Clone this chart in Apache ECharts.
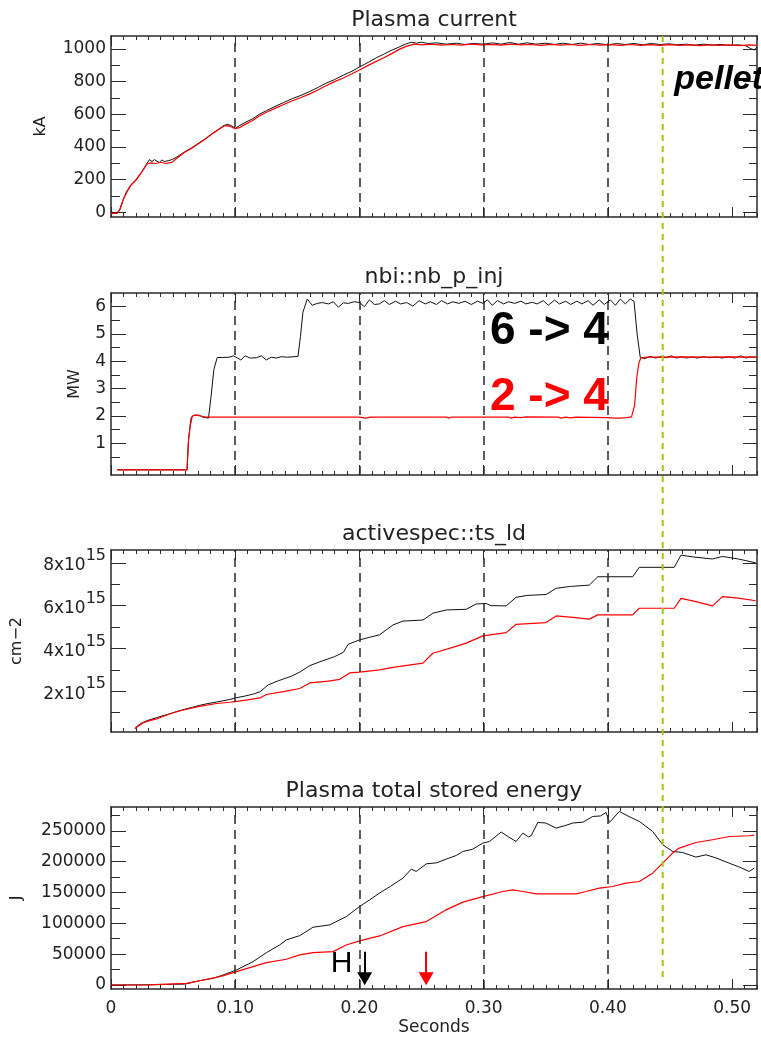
<!DOCTYPE html>
<html>
<head>
<meta charset="utf-8">
<title>Discharge comparison</title>
<script src="https://cdn.jsdelivr.net/npm/echarts@6/dist/echarts.min.js"></script>
<style>
  html, body { margin: 0; padding: 0; background: #fff; }
  #chart { width: 761px; height: 1037px; }
</style>
</head>
<body>
<div id="chart"></div>
<script>
// ---- time axis (seconds) ----
const timeMajor = [0, 0.1, 0.2, 0.3, 0.4, 0.5];
const timeLabels = ['0', '0.10', '0.20', '0.30', '0.40', '0.50'];
const guideTimes = [0.1, 0.2, 0.3, 0.4];
const pelletTime = 0.4441;

// ---- Plasma current (kA) ----
const ipTicks = [0, 200, 400, 600, 800, 1000];
const ipTickLabels = ['0', '200', '400', '600', '800', '1000'];
const ipMinor = [100, 300, 500, 700, 900];
const ipBlack = [
  [0,0],[0.004,-5],[0.0065,5],[0.009,60],[0.012,118],[0.016,168],[0.02,198],[0.025,250],[0.029,300],
  [0.031,322],[0.033,310],[0.035,322],[0.037,312],[0.039,305],[0.041,320],[0.043,310],[0.046,315],
  [0.049,322],[0.053,338],[0.059,368],[0.065,395],[0.07,420],[0.076,450],[0.081,480],[0.087,510],
  [0.091,532],[0.094,538],[0.097,530],[0.1,515],[0.103,528],[0.108,550],[0.114,572],[0.119,598],
  [0.125,622],[0.132,648],[0.139,672],[0.146,696],[0.153,716],[0.16,740],[0.167,766],[0.173,790],
  [0.18,813],[0.187,840],[0.194,864],[0.2,890],[0.207,918],[0.214,948],[0.22,970],[0.226,993],
  [0.232,1013],[0.237,1030],[0.2417,1042],[0.246,1036],[0.25,1042],[0.255,1034],[0.262,1038],
  [0.27,1030],[0.278,1036],[0.285,1028],[0.292,1034],[0.3,1030],[0.307,1038],[0.314,1030],
  [0.321,1040],[0.328,1030],[0.335,1038],[0.342,1030],[0.35,1036],[0.357,1028],[0.364,1036],
  [0.371,1028],[0.378,1036],[0.385,1028],[0.392,1034],[0.4,1026],[0.407,1034],[0.414,1028],
  [0.421,1034],[0.428,1026],[0.435,1034],[0.442,1028],[0.449,1032],[0.456,1026],[0.463,1030],
  [0.47,1024],[0.477,1030],[0.484,1024],[0.491,1028],[0.498,1022],[0.505,1026],[0.511,1020],
  [0.515,1002],[0.518,994],[0.52,1012]
];
const ipRed = [
  [0,-8],[0.005,-8],[0.0075,20],[0.01,80],[0.013,125],[0.016,165],[0.02,195],[0.025,248],
  [0.029,295],[0.032,302],[0.036,298],[0.04,306],[0.044,298],[0.049,305],[0.053,330],[0.059,365],
  [0.065,392],[0.07,418],[0.076,448],[0.081,478],[0.087,508],[0.091,528],[0.094,530],[0.097,522],
  [0.1,512],[0.104,520],[0.108,538],[0.114,562],[0.119,588],[0.125,612],[0.132,636],[0.139,660],
  [0.146,683],[0.153,703],[0.16,725],[0.167,750],[0.173,775],[0.18,800],[0.187,822],[0.194,848],
  [0.2,872],[0.207,900],[0.214,926],[0.22,948],[0.226,972],[0.232,998],[0.238,1018],[0.244,1030],
  [0.25,1026],[0.258,1030],[0.266,1024],[0.274,1028],[0.282,1024],[0.29,1030],[0.298,1025],
  [0.306,1029],[0.314,1024],[0.322,1030],[0.33,1025],[0.338,1028],[0.346,1023],[0.354,1029],
  [0.362,1024],[0.37,1028],[0.378,1023],[0.386,1028],[0.394,1024],[0.402,1027],[0.41,1022],
  [0.418,1028],[0.426,1023],[0.434,1027],[0.442,1022],[0.45,1027],[0.458,1022],[0.466,1026],
  [0.474,1021],[0.482,1026],[0.49,1022],[0.498,1026],[0.506,1021],[0.514,1025],[0.52,1022]
];

// ---- Neutral beam power (MW) ----
const nbiTicks = [1, 2, 3, 4, 5, 6];
const nbiTickLabels = ['1', '2', '3', '4', '5', '6'];
const nbiMinor = [0.5, 1.5, 2.5, 3.5, 4.5, 5.5];
const nbiBlack = [
  [0.005,0.03],[0.0612,0.03],[0.0625,1.2],[0.0645,1.95],[0.067,2.03],[0.071,2.03],[0.074,1.96],
  [0.0785,1.92],[0.0805,2.7],[0.0828,3.7],[0.0855,4.14],[0.09,4.14],[0.095,4.15],[0.0985,4.2],
  [0.102,4.12],[0.1045,4.05],[0.108,4.2],[0.112,4.12],[0.117,4.13],[0.121,4.2],[0.125,4.05],
  [0.129,4.15],[0.133,4.12],[0.137,4.17],[0.142,4.15],[0.1505,4.18],[0.1525,4.9],[0.1545,5.8],
  [0.158,6.28],[0.162,6.05],[0.166,6.12],[0.17,6.15],[0.175,6.1],[0.179,6.18],[0.183,5.98],
  [0.187,6.14],[0.191,6.12],[0.196,6.18],[0.2,6.15],[0.204,6.0],[0.208,6.25],[0.212,6.08],
  [0.216,6.1],[0.22,6.22],[0.224,6.08],[0.229,6.2],[0.233,6.1],[0.238,6.15],[0.243,6.02],
  [0.248,6.22],[0.253,6.1],[0.257,6.18],[0.262,6.08],[0.266,6.22],[0.271,6.1],[0.275,6.18],
  [0.28,6.12],[0.285,6.2],[0.29,6.08],[0.295,6.2],[0.2995,6.12],[0.303,6.25],[0.307,6.05],
  [0.311,6.22],[0.316,6.1],[0.32,6.18],[0.325,6.12],[0.33,6.2],[0.334,6.1],[0.339,6.16],
  [0.343,6.1],[0.348,6.22],[0.352,6.05],[0.357,6.24],[0.361,6.1],[0.366,6.2],[0.37,6.08],
  [0.375,6.2],[0.379,6.1],[0.384,6.22],[0.388,6.05],[0.393,6.25],[0.397,6.08],[0.402,6.25],
  [0.406,6.05],[0.41,6.28],[0.414,6.1],[0.418,6.28],[0.421,6.2],[0.4235,5.0],[0.426,4.15],
  [0.43,4.1],[0.434,4.18],[0.438,4.12],[0.443,4.17],[0.447,4.13],[0.451,4.2],[0.455,4.12],
  [0.459,4.17],[0.463,4.12],[0.468,4.16],[0.472,4.12],[0.477,4.17],[0.482,4.13],[0.487,4.16],
  [0.492,4.12],[0.497,4.17],[0.502,4.12],[0.507,4.2],[0.511,4.12],[0.515,4.17],[0.52,4.14]
];
const nbiRed = [
  [0.005,0.03],[0.0612,0.03],[0.0622,1.0],[0.0638,1.65],[0.0655,2.0],[0.068,2.03],[0.072,2.0],
  [0.076,1.96],[0.1,1.96],[0.15,1.96],[0.2,1.96],[0.205,1.92],[0.209,1.96],[0.27,1.96],
  [0.272,1.92],[0.274,1.96],[0.32,1.96],[0.322,1.92],[0.325,1.96],[0.33,1.94],[0.334,1.97],
  [0.36,1.96],[0.362,1.92],[0.366,1.96],[0.37,1.93],[0.374,1.96],[0.4,1.94],[0.405,1.92],
  [0.41,1.92],[0.415,1.94],[0.419,1.97],[0.4215,2.4],[0.4232,3.4],[0.425,3.95],[0.4265,4.12],
  [0.43,4.15],[0.44,4.15],[0.46,4.16],[0.48,4.15],[0.5,4.16],[0.52,4.15]
];

// ---- Line-integrated density (units of 10^15 cm-2) ----
const neTicks = [2, 4, 6, 8];
const neTickLabels = ['2x10', '4x10', '6x10', '8x10'];
const neExponent = '15';
const neMinor = [1, 3, 5, 7];
const neBlack = [
  [0.0193,0.27],[0.022,0.42],[0.026,0.56],[0.031,0.67],[0.0367,0.77],[0.043,0.88],[0.05,1.0],
  [0.055,1.09],[0.0603,1.18],[0.066,1.26],[0.071,1.34],[0.078,1.43],[0.085,1.5],[0.0957,1.62],
  [0.1,1.69],[0.108,1.78],[0.115,1.88],[0.12,1.98],[0.1265,2.3],[0.135,2.5],[0.145,2.7],
  [0.152,2.9],[0.16,3.2],[0.17,3.42],[0.18,3.62],[0.187,3.82],[0.191,4.2],[0.2,4.4],[0.208,4.52],
  [0.2162,4.64],[0.227,5.1],[0.235,5.28],[0.2511,5.33],[0.2591,5.65],[0.27,5.8],[0.2859,5.83],
  [0.294,6.08],[0.302,6.1],[0.306,6.0],[0.3181,5.99],[0.3261,6.39],[0.335,6.48],[0.3502,6.52],
  [0.3583,6.81],[0.37,6.9],[0.385,6.96],[0.3918,7.35],[0.4199,7.35],[0.4252,7.79],[0.4534,7.79],
  [0.4588,8.36],[0.468,8.28],[0.4842,8.18],[0.4922,8.3],[0.505,8.18],[0.519,8.0]
];
const neRed = [
  [0.0193,0.25],[0.022,0.38],[0.026,0.53],[0.031,0.63],[0.0367,0.71],[0.043,0.85],[0.05,1.0],
  [0.06,1.15],[0.071,1.3],[0.085,1.43],[0.0957,1.49],[0.1,1.52],[0.11,1.6],[0.1198,1.69],
  [0.1251,1.85],[0.14,2.0],[0.1519,2.13],[0.16,2.39],[0.175,2.48],[0.1841,2.56],[0.1921,2.86],
  [0.2,2.9],[0.2163,3.0],[0.227,3.12],[0.2511,3.32],[0.2591,3.78],[0.275,4.05],[0.2859,4.25],
  [0.2993,4.59],[0.3181,4.74],[0.3261,5.13],[0.3502,5.21],[0.3583,5.52],[0.3717,5.45],[0.385,5.37],
  [0.3918,5.57],[0.4199,5.57],[0.4252,5.88],[0.4534,5.88],[0.4588,6.34],[0.47,6.2],[0.4842,5.99],
  [0.4922,6.42],[0.505,6.35],[0.519,6.23]
];

// ---- Plasma total stored energy (J) ----
const wTicks = [0, 50000, 100000, 150000, 200000, 250000];
const wTickLabels = ['0', '50000', '100000', '150000', '200000', '250000'];
const wMinor = [25000, 75000, 125000, 175000, 225000, 275000];
const wBlack = [
  [0,0],[0.03,300],[0.06,1500],[0.0715,7000],[0.0822,10800],[0.09,16000],[0.101,24400],
  [0.1144,37900],[0.1251,52400],[0.1358,64900],[0.1412,73100],[0.1519,80000],[0.1626,93600],
  [0.176,97400],[0.1894,110900],[0.2001,127100],[0.2082,138000],[0.2162,149000],[0.225,160000],
  [0.235,173200],[0.2417,187800],[0.2457,184000],[0.2538,196400],[0.262,198000],[0.2698,204000],
  [0.278,210000],[0.2832,216400],[0.291,220000],[0.2993,230000],[0.3047,232600],[0.3141,247900],
  [0.32,240000],[0.3261,232600],[0.3315,246200],[0.336,240000],[0.3382,241900],[0.3436,263500],
  [0.35,262500],[0.3583,254300],[0.365,258000],[0.3717,262500],[0.38,264000],[0.3878,273200],
  [0.394,274000],[0.3985,279700],[0.4012,263500],[0.4092,281300],[0.417,273000],[0.4253,265100],
  [0.43,258000],[0.436,248900],[0.4441,227300],[0.4521,216400],[0.4601,214800],[0.4708,207300],
  [0.4789,211000],[0.487,206000],[0.4976,197500],[0.506,191000],[0.5137,184000],[0.5177,189400]
];
const wRed = [
  [0,0],[0.03,300],[0.0608,2700],[0.0742,8100],[0.0876,13500],[0.101,21600],[0.1144,29700],
  [0.1251,36200],[0.1412,41700],[0.1519,48700],[0.1626,52400],[0.1787,54100],[0.1894,64900],
  [0.2001,71400],[0.2162,79500],[0.235,94600],[0.2538,102800],[0.2698,121800],[0.2832,134300],
  [0.2993,143300],[0.3155,151500],[0.3235,154200],[0.3315,151500],[0.3422,147700],[0.3744,147700],
  [0.3824,151500],[0.3931,157000],[0.4038,159600],[0.4145,165100],[0.4253,167700],[0.436,181300],
  [0.4441,197500],[0.4521,213800],[0.4574,221900],[0.4708,231000],[0.4842,235400],[0.4976,240700],
  [0.5137,241900],[0.5177,243000]
];

// ---- annotation anchors (time, value) ----
const hModeMarks = [
  { time: 0.2042, from: 54000, to: 10000, color: '#000000' },
  { time: 0.2537, from: 54000, to: 10000, color: '#ff0000' }
];

// ---- styling ----
const AXIS = '#2a2a2a';
const TXT = '#222222';
const FONT = '"DejaVu Sans", sans-serif';
const BOLD = '"Liberation Sans", Arial, sans-serif';
const BLACK_LINE = '#111111';
const RED_LINE = '#ff0000';

const timeMinor = [];
for (let i = 1; i <= 52; i++) if (i % 10 !== 0) timeMinor.push(i / 100);

function lookup(values, labels) {
  return function (v) {
    for (let i = 0; i < values.length; i++) {
      if (Math.abs(values[i] - v) < 1e-9) return labels[i];
    }
    return '';
  };
}

const panels = [
  { title: 'Plasma current', name: 'kA', nameGap: 62, top: 36, height: 181,
    yMin: -30, yMax: 1080, major: ipTicks, labels: ipTickLabels, minor: ipMinor,
    black: ipBlack, red: ipRed },
  { title: 'nbi::nb_p_inj', name: 'MW', nameGap: 28, top: 293, height: 182,
    yMin: -0.16, yMax: 6.5, major: nbiTicks, labels: nbiTickLabels, minor: nbiMinor,
    black: nbiBlack, red: nbiRed },
  { title: 'activespec::ts_ld', name: 'cm\u22122', nameGap: 86, top: 550, height: 182,
    yMin: 0.1, yMax: 8.6, major: neTicks, labels: neTickLabels, minor: neMinor,
    black: neBlack, red: neRed, rich: true },
  { title: 'Plasma total stored energy', name: 'J', nameGap: 86, top: 807, height: 182,
    yMin: -6500, yMax: 288500, major: wTicks, labels: wTickLabels, minor: wMinor,
    black: wBlack, red: wRed }
];

const GRID_LEFT = 111;
const GRID_WIDTH = 646;

const grids = [], xAxes = [], yAxes = [], series = [];

panels.forEach(function (p, gi) {
  grids.push({ left: GRID_LEFT, top: p.top, width: GRID_WIDTH, height: p.height, show: false });
  const isLast = gi === panels.length - 1;
  const frame = { show: true, onZero: false, lineStyle: { color: AXIS, width: 1.5 } };
  const hidden = { show: false, onZero: false };
  const tickStyle = { color: AXIS, width: 1 };

  const xBase = { type: 'value', gridIndex: gi, min: 0, max: 0.52, splitLine: { show: false } };
  xAxes.push(Object.assign({}, xBase, {
    position: 'bottom', axisLine: frame,
    axisTick: { show: true, inside: true, length: 10, customValues: timeMajor, lineStyle: tickStyle },
    axisLabel: isLast
      ? { show: true, customValues: timeMajor, formatter: lookup(timeMajor, timeLabels),
          margin: 11, fontFamily: FONT, fontSize: 17, color: TXT }
      : { show: false },
    name: isLast ? 'Seconds' : '', nameLocation: 'middle', nameGap: 30,
    nameTextStyle: { fontFamily: FONT, fontSize: 17, color: TXT }
  }));
  xAxes.push(Object.assign({}, xBase, {
    position: 'bottom', axisLine: hidden,
    axisTick: { show: true, inside: true, length: 4, customValues: timeMinor, lineStyle: tickStyle },
    axisLabel: { show: false }
  }));
  xAxes.push(Object.assign({}, xBase, {
    position: 'top', axisLine: frame,
    axisTick: { show: true, inside: true, length: 10, customValues: timeMajor, lineStyle: tickStyle },
    axisLabel: { show: false }
  }));
  xAxes.push(Object.assign({}, xBase, {
    position: 'top', axisLine: hidden,
    axisTick: { show: true, inside: true, length: 4, customValues: timeMinor, lineStyle: tickStyle },
    axisLabel: { show: false }
  }));

  const yBase = { type: 'value', gridIndex: gi, min: p.yMin, max: p.yMax, splitLine: { show: false } };
  const labelFor = lookup(p.major, p.labels);
  const yLabel = p.rich
    ? { show: true, customValues: p.major, margin: 5, color: TXT, fontFamily: FONT, fontSize: 17,
        formatter: function (v) { return '{m|' + labelFor(v) + '}{s|' + neExponent + '}'; },
        rich: {
          m: { fontFamily: FONT, fontSize: 17, color: TXT, padding: [6, 0, 0, 0] },
          s: { fontFamily: FONT, fontSize: 16, color: TXT, padding: [0, 0, 14, 0] }
        } }
    : { show: true, customValues: p.major, formatter: labelFor, margin: 5,
        fontFamily: FONT, fontSize: 17, color: TXT };
  yAxes.push(Object.assign({}, yBase, {
    position: 'left', axisLine: frame,
    axisTick: { show: true, inside: true, length: 15, customValues: p.major, lineStyle: tickStyle },
    axisLabel: yLabel,
    name: p.name, nameLocation: 'middle', nameGap: p.nameGap,
    nameTextStyle: { fontFamily: FONT, fontSize: 16, color: TXT }
  }));
  yAxes.push(Object.assign({}, yBase, {
    position: 'left', axisLine: hidden,
    axisTick: { show: true, inside: true, length: 9, customValues: p.minor, lineStyle: tickStyle },
    axisLabel: { show: false }
  }));
  yAxes.push(Object.assign({}, yBase, {
    position: 'right', axisLine: frame,
    axisTick: { show: true, inside: true, length: 14, customValues: p.major, lineStyle: tickStyle },
    axisLabel: { show: false }
  }));
  yAxes.push(Object.assign({}, yBase, {
    position: 'right', axisLine: hidden,
    axisTick: { show: true, inside: true, length: 8, customValues: p.minor, lineStyle: tickStyle },
    axisLabel: { show: false }
  }));

  const guideLines = guideTimes.map(function (t) { return { xAxis: t }; });
  const blackMarks = guideLines.slice();
  const redMarks = [];
  if (isLast) {
    hModeMarks.forEach(function (m, k) {
      const item = [
        { coord: [m.time, m.from], symbol: 'none',
          lineStyle: { type: 'solid', color: m.color, width: 2 } },
        { coord: [m.time, m.to], symbol: 'triangle', symbolSize: [15, 13],
          itemStyle: { color: m.color } }
      ];
      if (k === 0) blackMarks.push(item); else redMarks.push(item);
    });
  }

  series.push({
    type: 'line', xAxisIndex: gi * 4, yAxisIndex: gi * 4, data: p.black,
    showSymbol: false, symbol: 'none', silent: true, z: 2,
    lineStyle: { color: BLACK_LINE, width: 1 },
    markLine: {
      silent: true, symbol: 'none', animation: false, label: { show: false },
      lineStyle: { type: [9, 6], color: AXIS, width: 1.5 },
      emphasis: { disabled: true },
      data: blackMarks
    }
  });
  series.push({
    type: 'line', xAxisIndex: gi * 4, yAxisIndex: gi * 4, data: p.red,
    showSymbol: false, symbol: 'none', silent: true, z: 3,
    lineStyle: { color: RED_LINE, width: 1.2 },
    markLine: redMarks.length ? {
      silent: true, symbol: 'none', animation: false, label: { show: false },
      emphasis: { disabled: true },
      data: redMarks
    } : undefined
  });
});

const chart = echarts.init(document.getElementById('chart'), null, { renderer: 'canvas' });
chart.setOption({
  animation: false,
  backgroundColor: '#ffffff',
  grid: grids,
  xAxis: xAxes,
  yAxis: yAxes,
  series: series
});

// ---- overlay: panel titles, pellet marker and annotations ----
function toPx(gi, t, v) {
  return chart.convertToPixel({ xAxisIndex: gi * 4, yAxisIndex: gi * 4 }, [t, v]);
}

const graphics = [];
panels.forEach(function (p, gi) {
  graphics.push({
    type: 'text', silent: true,
    style: { text: p.title, x: GRID_LEFT + GRID_WIDTH / 2, y: p.top - 16,
             font: '22px ' + FONT, fill: TXT, textAlign: 'center', textVerticalAlign: 'middle' }
  });
});

const pelletTop = toPx(0, pelletTime, panels[0].yMax);
const pelletBottom = toPx(3, pelletTime, 5000);
graphics.push({
  type: 'line', silent: true, z: 10,
  shape: { x1: pelletTop[0], y1: pelletTop[1], x2: pelletBottom[0], y2: pelletBottom[1] },
  style: { stroke: '#9fcb00', lineWidth: 2, lineDash: [6, 5] }
});

const pelletLabel = toPx(0, 0.4534, 812);
graphics.push({
  type: 'text', silent: true, z: 11,
  style: { text: 'pellet', x: pelletLabel[0], y: pelletLabel[1],
           font: 'italic bold 34px ' + BOLD, fill: '#000', textAlign: 'left', textVerticalAlign: 'middle' }
});

const beamBlack = toPx(1, 0.3529, 5.11);
graphics.push({
  type: 'text', silent: true, z: 11,
  style: { text: '6 -> 4', x: beamBlack[0], y: beamBlack[1],
           font: 'bold 46px ' + BOLD, fill: '#000', textAlign: 'center', textVerticalAlign: 'middle' }
});
const beamRed = toPx(1, 0.3529, 2.69);
graphics.push({
  type: 'text', silent: true, z: 11,
  style: { text: '2 -> 4', x: beamRed[0], y: beamRed[1],
           font: 'bold 46px ' + BOLD, fill: '#ff0000', textAlign: 'center', textVerticalAlign: 'middle' }
});

const hLabel = toPx(3, 0.1857, 34100);
graphics.push({
  type: 'text', silent: true, z: 11,
  style: { text: 'H', x: hLabel[0], y: hLabel[1],
           font: '30px ' + BOLD, fill: '#000', textAlign: 'center', textVerticalAlign: 'middle' }
});

chart.setOption({ graphic: graphics });
</script>
</body>
</html>
